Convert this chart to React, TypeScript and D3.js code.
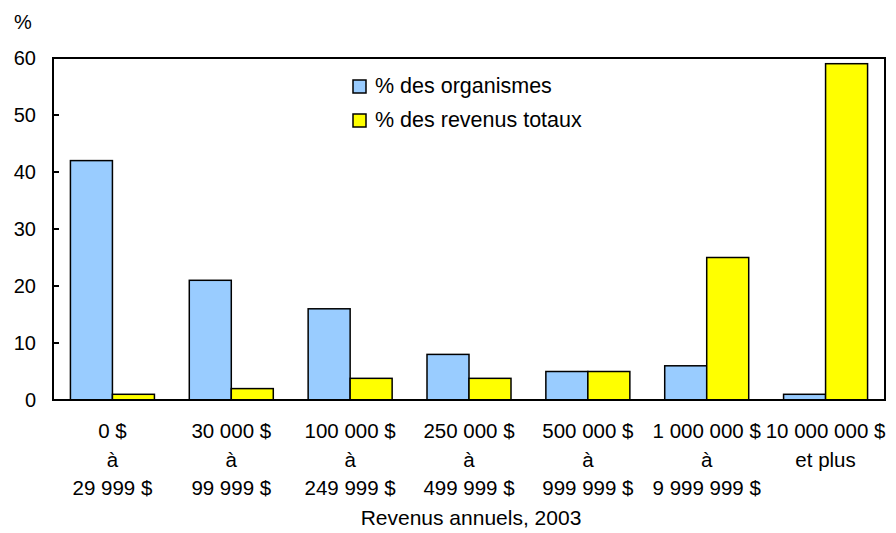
import React from "react";
import * as d3 from "d3";

const categories = [
  ["0 $", "à", "29 999 $"],
  ["30 000 $", "à", "99 999 $"],
  ["100 000 $", "à", "249 999 $"],
  ["250 000 $", "à", "499 999 $"],
  ["500 000 $", "à", "999 999 $"],
  ["1 000 000 $", "à", "9 999 999 $"],
  ["10 000 000 $", "et plus"],
];
const organismes = [42, 21, 16, 8, 5, 6, 1];
const revenus = [1, 2, 3.8, 3.8, 5, 25, 59];
const yTicks = [0, 10, 20, 30, 40, 50, 60];
const seriesNames = ["% des organismes", "% des revenus totaux"];
const colors = ["#99ccff", "#ffff00"];

const App = () => {
  const width = 896;
  const height = 533;
  const left = 53;
  const right = 885;
  const top = 58;
  const bottom = 400;

  const x = d3
    .scaleBand()
    .domain(categories.map((_, i) => String(i)))
    .range([left, right])
    .paddingInner(0)
    .paddingOuter(0);
  const y = d3.scaleLinear().domain([0, 60]).range([bottom, top]);
  const barW = 42;

  const font = "'Liberation Sans', Arial, sans-serif";

  return (
    <svg width={width} height={height} style={{ position: "absolute", left: 0, top: 0 }}>
      <rect width={width} height={height} fill="#fff" />
      <text x={14} y={29} fontFamily={font} fontSize={20}>%</text>

      {yTicks.map((t) => (
        <g key={t}>
          <line x1={left} x2={left + 6} y1={y(t)} y2={y(t)} stroke="#000" strokeWidth={2} />
          <text x={36} y={y(t) + 7} textAnchor="end" fontFamily={font} fontSize={20}>
            {t}
          </text>
        </g>
      ))}

      {categories.map((c, i) => {
        const cx = x(String(i))! + x.bandwidth() / 2;
        return (
          <g key={i}>
            <rect
              x={cx - barW}
              y={y(organismes[i])}
              width={barW}
              height={bottom - y(organismes[i])}
              fill={colors[0]}
              stroke="#000"
              strokeWidth={1.5}
            />
            <rect
              x={cx}
              y={y(revenus[i])}
              width={barW}
              height={bottom - y(revenus[i])}
              fill={colors[1]}
              stroke="#000"
              strokeWidth={1.5}
            />
            {c.map((line, k) => (
              <text
                key={k}
                x={cx}
                y={438 + k * 28.5}
                textAnchor="middle"
                fontFamily={font}
                fontSize={20.5}
              >
                {line}
              </text>
            ))}
          </g>
        );
      })}

      <rect x={left} y={top} width={right - left} height={bottom - top} fill="none" stroke="#000" strokeWidth={2} />

      {seriesNames.map((name, i) => (
        <g key={name} transform={`translate(353, ${80 + i * 34})`}>
          <rect width={13} height={13} fill={colors[i]} stroke="#000" strokeWidth={1.5} />
          <text x={22} y={12.5} fontFamily={font} fontSize={21.5}>
            {name}
          </text>
        </g>
      ))}

      <text x={471} y={525} textAnchor="middle" fontFamily={font} fontSize={21}>
        Revenus annuels, 2003
      </text>
    </svg>
  );
};

export default App;
